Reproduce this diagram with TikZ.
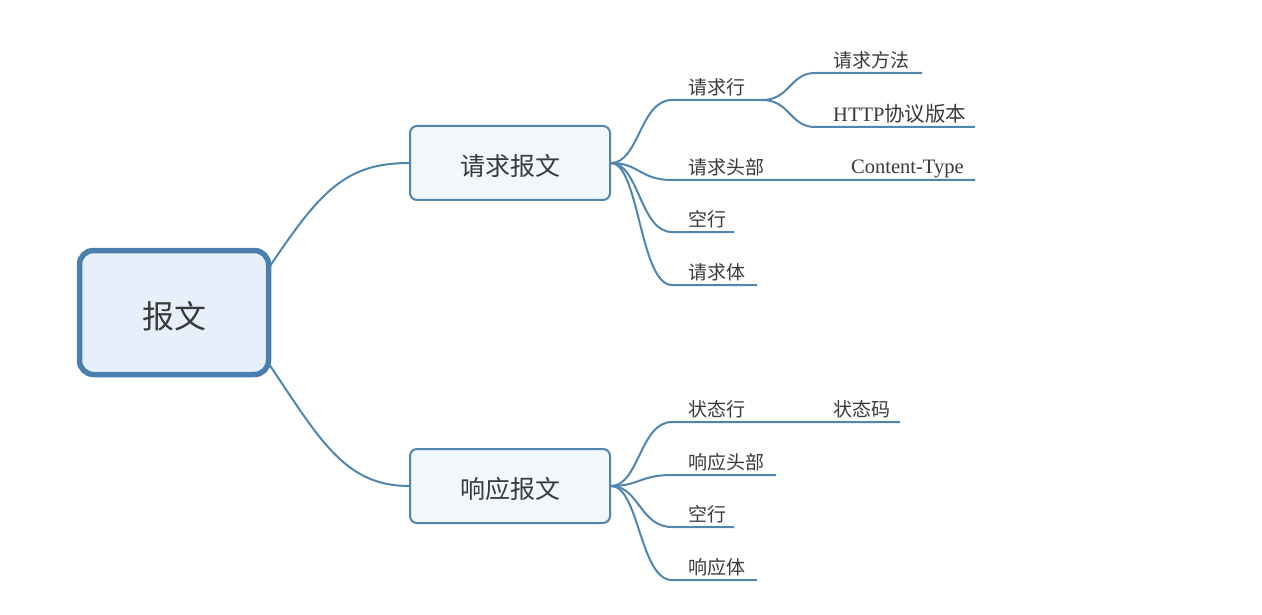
\documentclass[tikz,border=0pt]{standalone}
\usepackage{fontspec}
\setmainfont{Liberation Serif}
\newfontfamily\cjk{Noto Sans CJK SC}
\definecolor{branch}{HTML}{4F86B0}
\definecolor{rootline}{HTML}{4A7FAD}
\definecolor{rootfill}{HTML}{E7F0FA}
\definecolor{subfill}{HTML}{F2F7FC}
\definecolor{txt}{HTML}{3A3A3A}
\begin{document}
\begin{tikzpicture}[x=1pt,y=-1pt,
  conn/.style={draw=branch,line width=2pt},
  rootbox/.style={draw=rootline,line width=5.5pt,fill=rootfill,rounded corners=14pt,minimum width=189pt,minimum height=124pt,inner sep=0pt,text=txt,font=\cjk\fontsize{32}{32}\selectfont},
  subbox/.style={draw=branch,line width=2pt,fill=subfill,rounded corners=7pt,minimum width=200pt,minimum height=74pt,inner sep=0pt,text=txt,font=\cjk\fontsize{25}{25}\selectfont},
  leaf/.style={anchor=base west,inner sep=0pt,text=txt,font=\cjk\fontsize{19}{19}\selectfont},
  latin/.style={anchor=base west,inner sep=0pt,text=txt,font=\fontsize{20.5}{20.5}\selectfont}]
\useasboundingbox (0,0) rectangle (1262,615);

\node[rootbox] (root) at (174,312.5) {\raisebox{-3.5pt}[\height][\depth]{报文}};
\node[subbox] (req) at (510,163) {\raisebox{-2.5pt}[\height][\depth]{请求报文}};
\node[subbox] (resp) at (510,486) {\raisebox{-2.5pt}[\height][\depth]{响应报文}};

\draw[conn] (270,266) .. controls (320,192) and (345,163) .. (req.west);
\draw[conn] (269,364) .. controls (320,440) and (345,486) .. (resp.west);

% request children
\coordinate (qlA) at (672,100); \coordinate (qlB) at (762,100);
\coordinate (qmA) at (815,73);  \coordinate (qmB) at (922,73);
\coordinate (qvA) at (815,127); \coordinate (qvB) at (975,127);
\coordinate (qhA) at (672,180); \coordinate (qhB) at (975,180);
\coordinate (qeA) at (672,232); \coordinate (qeB) at (734,232);
\coordinate (qbA) at (672,285); \coordinate (qbB) at (757,285);

\foreach \c in {ql,qh,qe,qb}{
  \draw[conn] (req.east) .. controls +(28,0) and +(-32,0) .. (\c A) -- (\c B);
}
\draw[conn] (qlB) .. controls +(28,0) and +(-25,0) .. (qmA) -- (qmB);
\draw[conn] (qlB) .. controls +(28,0) and +(-25,0) .. (qvA) -- (qvB);

\node[leaf] (tql) at (688,94.5) {请求行};
\node[leaf] (tqm) at (833,67.5) {请求方法};
\node[latin] (tqv) at (833,121.5) {HTTP{\cjk 协议版本}};
\node[leaf] (tqh) at (688,174.5) {请求头部};
\node[latin] (tqc) at (851,173.5) {Content-Type};
\node[leaf] (tqe) at (688,226.5) {空行};
\node[leaf] (tqb) at (688,279.5) {请求体};

% response children
\coordinate (rsA) at (672,422); \coordinate (rsB) at (900,422);
\coordinate (rhA) at (672,475); \coordinate (rhB) at (776,475);
\coordinate (reA) at (672,527); \coordinate (reB) at (734,527);
\coordinate (rbA) at (672,580); \coordinate (rbB) at (757,580);

\foreach \c in {rs,rh,re,rb}{
  \draw[conn] (resp.east) .. controls +(28,0) and +(-32,0) .. (\c A) -- (\c B);
}

\node[leaf] (trs) at (688,416.5) {状态行};
\node[leaf] (trc) at (833,416.5) {状态码};
\node[leaf] (trh) at (688,469.5) {响应头部};
\node[leaf] (tre) at (688,521.5) {空行};
\node[leaf] (trb) at (688,574.5) {响应体};
\end{tikzpicture}
\end{document}
